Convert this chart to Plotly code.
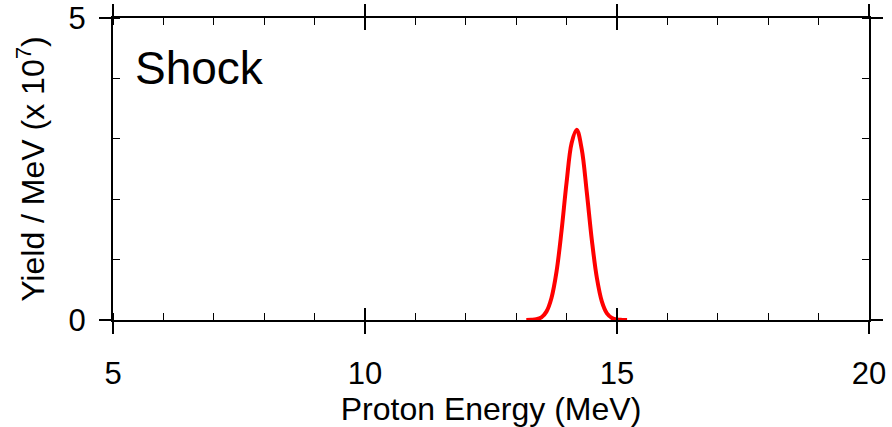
import plotly.graph_objects as go

energy = [13.2, 13.3, 13.4, 13.5, 13.6, 13.7, 13.8, 13.9, 14.0, 14.1, 14.2,
          14.3, 14.4, 14.5, 14.6, 14.7, 14.8, 14.9, 15.0, 15.1, 15.2]
yield_ = [0.0, 0.003, 0.012, 0.044, 0.139, 0.365, 0.80, 1.48, 2.28, 2.93, 3.15,
          2.83, 2.12, 1.33, 0.70, 0.305, 0.111, 0.034, 0.009, 0.002, 0.0]

x_ticks = [5, 10, 15, 20]
y_ticks = [0, 5]
panel_label = "Shock"

FONT = "Liberation Sans, Arial, sans-serif"

fig = go.Figure()
fig.add_trace(go.Scatter(x=energy, y=yield_, mode="lines",
                         line=dict(color="#ff0000", width=4, shape="spline"),
                         showlegend=False, hoverinfo="skip"))
# helper trace for the overlay axes (inside halves of crossing major ticks)
fig.add_trace(go.Scatter(x=[5, 20], y=[0, 5], xaxis="x2", yaxis="y2", mode="markers",
                         marker=dict(opacity=0), showlegend=False, hoverinfo="skip"))

common = dict(showgrid=False, zeroline=False, tickcolor="black", tickwidth=1.5, automargin=False)

fig.update_layout(
    width=892, height=427,
    margin=dict(l=113, r=23, t=18, b=107),
    paper_bgcolor="white", plot_bgcolor="white",
    font=dict(family=FONT, color="black"),
    xaxis=dict(range=[5, 20], tickvals=x_ticks, ticks="outside", ticklen=12,
               showline=True, linecolor="black", linewidth=2, mirror="ticks",
               minor=dict(ticks="inside", ticklen=7, dtick=1, tickcolor="black", tickwidth=1),
               tickfont=dict(size=31), ticklabelstandoff=13,
               title=dict(text="Proton Energy (MeV)", font=dict(size=32), standoff=2),
               **common),
    yaxis=dict(range=[0, 5], tickvals=y_ticks, ticks="outside", ticklen=12,
               showline=True, linecolor="black", linewidth=2, mirror="ticks",
               minor=dict(ticks="inside", ticklen=7, dtick=1, tickcolor="black", tickwidth=1),
               tickfont=dict(size=31), ticklabelstandoff=7,
               title=dict(text="Yield / MeV (x 10<sup>7</sup>)", font=dict(size=32), standoff=14),
               **common),
    xaxis2=dict(overlaying="x", matches="x", range=[5, 20], tickvals=x_ticks, ticks="inside",
                ticklen=12, showticklabels=False, showline=False, mirror="ticks", anchor="y2",
                **common),
    yaxis2=dict(overlaying="y", matches="y", range=[0, 5], tickvals=y_ticks, ticks="inside",
                ticklen=12, showticklabels=False, showline=False, mirror="ticks", anchor="x2",
                **common),
    annotations=[dict(text=panel_label, xref="paper", yref="paper", x=0.026, y=0.835,
                      xanchor="left", yanchor="middle", showarrow=False,
                      font=dict(size=46, family=FONT))],
)

fig.write_html("out.html")
